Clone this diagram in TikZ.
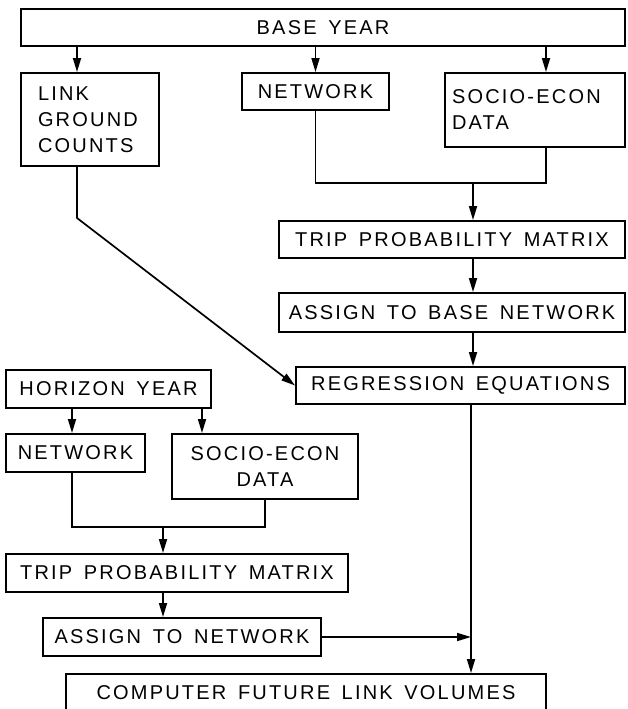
\documentclass[tikz,border=0pt]{standalone}
\usepackage{fontspec}
\setmainfont{Liberation Sans}[LetterSpace=11,WordSpace=1.5]
\usetikzlibrary{arrows.meta,calc}
\begin{document}
\begin{tikzpicture}[x=1pt,y=-1pt,
  box/.style={draw, line width=1.9pt, inner sep=0pt, font=\fontsize{20}{26}\selectfont},
  arr/.style={line width=1.7pt, -{Triangle[length=14pt,width=8pt]}},
  ln/.style={line width=1.7pt}]
\useasboundingbox (0,0) rectangle (627,709);
% base year branch
\node[box, minimum width=604pt, minimum height=37pt] (base) at (323,27.5) {BASE YEAR};
\node[box, minimum width=138pt, minimum height=93pt, text width=104pt, inner xsep=17pt, align=left] (link) at (90,119.5) {LINK\\GROUND\\COUNTS};
\node[box, minimum width=147pt, minimum height=37pt] (netb) at (315.5,91.5) {NETWORK};
\node[box, minimum width=180pt, minimum height=74pt, text width=166pt, inner xsep=7pt, align=left] (sociob) at (535,110) {SOCIO-ECON\\DATA};
\node[box, minimum width=346pt, minimum height=37pt] (tripb) at (452,239.5) {TRIP PROBABILITY MATRIX};
\node[box, minimum width=346pt, minimum height=39pt] (assignb) at (452,312.5) {ASSIGN TO BASE NETWORK};
\node[box, minimum width=329pt, minimum height=37pt] (regr) at (460.5,385.5) {REGRESSION EQUATIONS};
% horizon year branch
\node[box, minimum width=205pt, minimum height=38pt] (hor) at (108.5,389) {HORIZON YEAR};
\node[box, minimum width=139pt, minimum height=38pt] (neth) at (75.5,453) {NETWORK};
\node[box, minimum width=186pt, minimum height=65pt, align=center] (socioh) at (265,466.5) {SOCIO-ECON\\DATA};
\node[box, minimum width=342pt, minimum height=38pt] (triph) at (177,573) {TRIP PROBABILITY MATRIX};
\node[box, minimum width=278pt, minimum height=38pt] (assignh) at (182,637) {ASSIGN TO NETWORK};
\node[box, minimum width=480pt, minimum height=38pt] (comp) at (306,693) {COMPUTER FUTURE LINK VOLUMES};
% helper coordinates
\coordinate (xa) at (77,0);
\coordinate (xc) at (546,0);
\coordinate (jb) at (473,183);
\coordinate (xk) at (77,218);
\coordinate (xv) at (471,0);
\coordinate (xh1) at (72,0);
\coordinate (xh2) at (202,0);
\coordinate (jh) at (163,527);
% base connectors
\draw[arr] (base.south -| xa) -- (link.north -| xa);
\draw[arr] (base.south -| netb) -- (netb.north);
\draw[arr] (base.south -| xc) -- (sociob.north -| xc);
\draw[ln] (netb.south) |- (jb) -| (sociob.south -| xc);
\draw[arr] (jb) -- (tripb.north -| jb);
\draw[arr] (tripb.south -| jb) -- (assignb.north -| jb);
\draw[arr] (assignb.south -| jb) -- (regr.north -| jb);
\draw[arr] (link.south -| xa) -- (xk) -- (regr.west);
\draw[arr] (regr.south -| xv) -- (comp.north -| xv);
% horizon connectors
\draw[arr] (hor.south -| xh1) -- (neth.north -| xh1);
\draw[arr] (hor.south -| xh2) -- (socioh.north -| xh2);
\draw[ln] (neth.south -| xh1) |- (jh) -| (socioh.south);
\draw[arr] (jh) -- (triph.north -| jh);
\draw[arr] (triph.south -| jh) -- (assignh.north -| jh);
\draw[arr] (assignh.east) -- (assignh.east -| xv);
\end{tikzpicture}
\end{document}
